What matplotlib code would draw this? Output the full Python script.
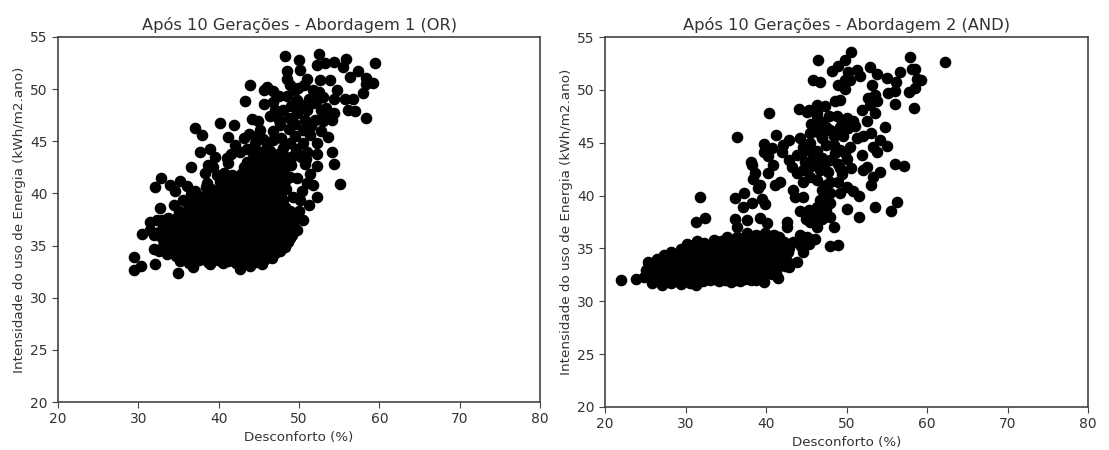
import matplotlib
matplotlib.use('Agg')
import matplotlib.pyplot as plt

# pontos: (desconforto, intensidade)
or_sparse = [
    (48.3,53.2),(50.0,52.8),(52.5,53.4),(52.2,52.3),(53.2,52.5),(54.4,52.6),(55.9,52.9),(55.5,52.1),
    (59.5,52.5),(57.4,51.7),(56.3,51.2),(58.4,51.1),(59.2,50.6),(58.4,50.5),(58.0,49.6),(58.4,47.2),
    (57.0,47.9),(56.1,48.0),(56.7,49.1),(55.7,49.1),(54.7,49.9),(54.3,49.1),(55.1,40.9),(54.3,42.8),
    (54.1,44.0),(53.6,45.4),(43.9,50.4),(46.0,50.2),(45.6,49.9),(46.8,49.8),(43.3,48.9),(45.6,48.6),
    (46.8,48.8),(48.5,51.7),(48.5,51.0),(50.1,51.8),(51.0,51.0),(52.6,50.9),(53.9,50.9),(48.9,50.4),
    (49.9,50.1),(51.8,49.9),(48.5,49.3),(49.7,49.0),(51.2,49.1),(52.2,49.0),(53.4,48.2),(54.3,47.7),
    (54.1,47.0),(52.8,48.0),(51.0,48.0),(49.7,47.7),(48.0,48.0),(46.4,47.4),(44.1,47.1),(44.9,46.9),
    (40.2,46.8),(41.9,46.6),(37.1,46.3),(37.9,45.6),(41.2,45.4),(43.1,45.3),(45.1,46.1),(47.6,46.6),
    (50.5,46.1),(51.4,45.6),(52.2,44.8),(52.2,43.8),(52.2,42.6),(51.4,41.9),(51.8,40.8),(50.1,39.4),
    (50.5,37.5),(49.7,36.5),(37.7,44.0),(38.9,44.3),(39.5,43.5),(36.6,42.5),(38.7,42.7),(38.3,42.0),
    (38.5,41.0),(41.0,43.4),(41.2,42.9),(42.0,44.6),(42.7,44.0),(32.8,41.5),(32.1,40.6),(33.9,40.8),
    (35.2,41.2),(34.6,40.2),(36.0,40.7),(37.0,40.2),(32.7,38.6),(34.4,38.9),(35.6,39.4),(31.4,37.3),
    (32.3,37.5),(30.4,36.1),(31.4,36.5),(31.9,34.7),(32.1,33.2),(29.4,33.9),(29.5,32.7),(30.3,33.0),
    (34.9,32.4),(36.8,32.9),(38.9,33.2),(42.7,32.8),(43.9,33.0),(45.4,33.2),(40.6,33.3),(47.0,34.3),
    (48.3,35.2),(49.1,36.0),(49.7,37.8),(48.0,39.4),(47.2,40.7),(48.9,41.6),(51.0,41.0),(50.3,43.5),
    (48.9,44.8),(46.8,45.1),(44.3,43.9),(43.5,43.0),(52.2,39.7),(51.2,38.9),
]
or_upper = [
    (44.5,44.8),(45.5,45.2),(46.0,44.6),(47.8,45.3),(48.0,44.4),(49.0,43.5),(49.5,45.5),(50.5,44.8),
    (51.0,44.0),(50.7,42.8),(49.8,41.5),(50.4,40.2),(49.3,39.7),(50.0,38.3),(46.8,46.0),(48.8,46.2),
    (49.5,46.7),(50.8,47.0),(52.0,47.0),(53.0,46.9),(51.5,46.5),(52.8,46.0),(53.0,47.5),(47.5,47.0),
    (48.7,47.2),(47.0,48.0),(49.0,48.4),(50.3,48.5),(51.7,48.7),(53.0,49.2),(49.5,49.9),(50.6,50.4),
    (52.5,49.7),(47.5,49.3),(43.5,44.3),(41.5,43.8),(40.7,42.0),(39.8,41.8),(39.3,42.5),(37.5,39.8),
    (36.5,39.9),(38.4,40.6),(33.0,37.5),(32.0,36.0),(32.6,34.5),(44.9,45.6),(43.8,45.7),(50.9,43.3),
]
or_core = [
    (35.2,33.5),(36.3,33.3),(37.6,33.6),(38.7,33.4),(39.9,33.6),(41.1,33.5),(42.2,33.3),(43.4,33.6),(44.6,33.4),(45.7,33.6),(46.6,33.8),
    (33.6,34.2),(34.7,34.0),(35.9,34.3),(37.1,34.1),(38.3,34.3),(39.4,34.0),(40.6,34.2),(41.8,34.3),(42.9,34.1),(44.1,34.3),(45.3,34.0),(46.4,34.3),(47.6,34.5),
    (33.1,35.0),(34.2,34.8),(35.4,35.0),(36.6,34.8),(37.8,35.0),(38.9,34.9),(40.1,35.0),(41.3,34.8),(42.4,35.0),(43.6,34.8),(44.8,35.0),(45.9,34.8),(47.1,35.0),(48.2,34.9),
    (33.0,35.7),(34.1,35.5),(35.3,35.8),(36.4,35.5),(37.6,35.7),(38.8,35.5),(39.9,35.7),(41.1,35.5),(42.3,35.8),(43.4,35.5),(44.6,35.7),(45.8,35.5),(46.9,35.7),(48.1,35.5),(48.9,35.7),
    (32.6,36.3),(33.8,36.2),(35.0,36.4),(36.1,36.1),(37.3,36.3),(38.4,36.2),(39.6,36.4),(40.8,36.1),(41.9,36.3),(43.1,36.2),(44.3,36.4),(45.4,36.2),(46.6,36.3),(47.8,36.1),(48.9,36.4),
    (33.1,37.0),(34.3,36.9),(35.5,37.1),(36.6,36.9),(37.8,37.0),(38.9,36.8),(40.1,37.1),(41.3,36.9),(42.4,37.0),(43.6,36.8),(44.8,37.1),(45.9,36.9),(47.1,37.0),(48.2,36.8),(49.3,37.0),
    (33.7,37.6),(34.9,37.8),(36.0,37.5),(37.2,37.7),(38.4,37.6),(39.5,37.8),(40.7,37.5),(41.8,37.7),(43.0,37.6),(44.2,37.8),(45.3,37.5),(46.5,37.7),(47.7,37.6),(48.8,37.8),
    (35.1,38.3),(36.3,38.4),(37.4,38.2),(38.6,38.4),(39.8,38.3),(40.9,38.4),(42.1,38.2),(43.2,38.4),(44.4,38.3),(45.6,38.5),(46.7,38.2),(47.9,38.4),(48.9,38.3),
    (36.2,39.0),(37.4,39.1),(38.5,38.9),(39.7,39.1),(40.9,39.0),(42.0,39.2),(43.2,38.9),(44.3,39.1),(45.5,39.0),(46.6,39.2),(47.7,38.9),
    (37.2,39.7),(38.4,39.8),(39.6,39.6),(40.7,39.8),(41.9,39.7),(43.1,39.9),(44.2,39.6),(45.4,39.8),(46.5,39.7),(47.4,39.9),
    (39.1,40.4),(40.3,40.5),(41.5,40.3),(42.6,40.5),(43.8,40.4),(45.0,40.6),(46.1,40.3),(47.2,40.5),(48.4,40.4),
    (40.2,41.1),(41.4,41.2),(42.6,41.0),(43.7,41.2),(44.9,41.1),(46.1,41.3),(47.3,41.0),(48.2,41.2),
    (41.6,41.8),(42.8,41.9),(43.9,41.7),(45.1,41.9),(46.3,41.8),(47.4,42.0),
    (43.1,42.5),(44.3,42.6),(45.4,42.4),(46.6,42.6),(47.7,42.5),(49.0,42.7),
    (44.2,43.2),(45.4,43.3),(46.5,43.1),(47.7,43.3),(48.8,43.4),
    (45.2,44.0),(46.4,44.1),(47.6,43.9),(49.6,44.3),
]
or_fill = [
    (35.8,33.9),(37.0,33.9),(38.2,33.8),(39.4,33.9),(40.5,33.9),(41.7,33.8),(42.8,33.9),(44.0,33.9),(45.2,33.8),(46.3,33.9),
    (34.4,34.6),(35.6,34.6),(36.8,34.5),(37.9,34.6),(39.1,34.6),(40.2,34.5),(41.4,34.6),(42.6,34.6),(43.7,34.5),(44.9,34.6),(46.0,34.6),(47.2,34.5),
    (33.6,35.3),(34.8,35.3),(36.0,35.2),(37.1,35.3),(38.3,35.3),(39.5,35.2),(40.6,35.3),(41.8,35.3),(43.0,35.2),(44.1,35.3),(45.3,35.3),(46.4,35.2),(47.6,35.3),(48.6,35.3),
    (33.5,36.0),(34.6,36.0),(35.8,35.9),(37.0,36.0),(38.1,36.0),(39.3,35.9),(40.4,36.0),(41.6,36.0),(42.8,35.9),(43.9,36.0),(45.1,36.0),(46.2,35.9),(47.4,36.0),(48.5,36.0),
    (33.4,36.7),(34.6,36.7),(35.7,36.6),(36.9,36.7),(38.0,36.7),(39.2,36.6),(40.4,36.7),(41.5,36.7),(42.7,36.6),(43.8,36.7),(45.0,36.7),(46.2,36.6),(47.3,36.7),(48.5,36.7),
    (33.8,37.3),(34.9,37.3),(36.1,37.4),(37.3,37.3),(38.4,37.3),(39.6,37.4),(40.7,37.3),(41.9,37.3),(43.0,37.4),(44.2,37.3),(45.4,37.3),(46.5,37.4),(47.7,37.3),(48.8,37.3),
    (35.2,38.0),(36.4,38.0),(37.5,37.9),(38.7,38.0),(39.8,38.0),(41.0,37.9),(42.2,38.0),(43.3,38.0),(44.5,37.9),(45.6,38.0),(46.8,38.0),(48.0,37.9),
    (36.7,38.7),(37.9,38.7),(39.0,38.6),(40.2,38.7),(41.4,38.7),(42.5,38.6),(43.7,38.7),(44.8,38.7),(46.0,38.6),(47.1,38.7),(48.2,38.7),
    (37.8,39.4),(39.0,39.4),(40.1,39.3),(41.3,39.4),(42.5,39.4),(43.6,39.3),(44.8,39.4),(45.9,39.4),(47.1,39.3),
    (39.6,40.0),(40.8,40.0),(41.9,40.1),(43.1,40.0),(44.2,40.0),(45.4,40.1),(46.6,40.0),(47.7,40.0),
    (40.8,40.8),(42.0,40.8),(43.1,40.7),(44.3,40.8),(45.5,40.8),(46.6,40.7),(47.8,40.8),
    (42.0,41.5),(43.2,41.5),(44.4,41.4),(45.5,41.5),(46.7,41.5),(47.9,41.4),
    (43.5,42.2),(44.7,42.2),(45.8,42.1),(47.0,42.2),(48.1,42.2),
    (44.8,42.9),(45.9,42.9),(47.1,42.8),(48.3,42.9),
    (45.8,43.6),(47.0,43.6),(48.2,43.5),(49.2,43.6),
]
and_sparse = [
    (22.0,32.0),(23.9,32.1),(50.5,53.6),(46.5,52.8),(49.8,52.8),(57.9,53.1),(62.2,52.6),(48.9,52.3),
    (48.2,51.8),(52.9,52.2),(51.3,51.9),(50.2,51.7),(51.7,51.3),(53.8,51.5),(55.0,51.1),(56.6,51.7),
    (58.1,52.0),(58.5,52.0),(59.3,50.9),(58.7,51.0),(58.5,50.2),(57.8,49.8),(56.2,50.7),(56.0,49.9),
    (55.2,49.7),(56.0,48.7),(58.4,48.3),(45.8,50.9),(46.7,50.7),(49.0,50.5),(49.8,50.1),(50.4,50.9),
    (49.8,50.9),(53.2,50.5),(53.5,49.5),(52.7,49.2),(53.8,48.9),(52.9,48.6),(51.9,48.1),(53.5,47.8),
    (52.5,47.1),(49.2,49.0),(48.6,48.9),(46.3,48.6),(47.3,48.5),(44.1,48.2),(45.3,48.1),(40.4,47.8),
    (36.4,45.5),(41.2,45.7),(42.8,45.3),(42.1,44.8),(42.0,44.1),(39.7,44.9),(40.7,44.5),(39.7,44.1),
    (40.3,43.7),(38.1,43.2),(38.2,42.9),(40.9,42.9),(40.3,42.1),(38.6,42.1),(38.4,41.6),(39.3,41.0),
    (39.0,40.7),(41.7,41.3),(41.1,41.0),(31.8,39.9),(36.1,39.8),(37.3,40.2),(37.2,38.9),(38.2,39.3),
    (39.5,39.7),(39.9,39.2),(31.3,37.5),(32.4,37.9),(36.1,37.8),(37.7,37.7),(36.4,37.0),(39.3,37.9),
    (40.1,37.4),(42.6,37.5),(42.6,37.0),(44.2,38.5),(43.4,40.5),(43.6,39.9),(44.6,39.9),
]
and_mid = [
    (44.2,45.4),(44.6,44.6),(43.8,43.8),(45.3,44.6),(45.9,43.8),(42.8,43.4),(43.2,42.7),(43.8,42.1),
    (44.6,42.4),(45.9,43.0),(46.7,42.4),(47.7,42.2),(45.5,41.8),(46.3,41.5),(44.6,41.3),(48.0,41.3),
    (46.9,40.5),(48.0,40.2),(49.2,40.2),(50.0,40.8),(50.8,40.4),(51.5,40.0),(46.7,39.6),(48.0,39.3),
    (46.3,38.9),(47.5,38.6),(45.3,38.6),(45.9,38.0),(45.5,37.5),(46.9,37.8),(48.0,38.0),(48.4,37.0),
    (46.3,37.0),(46.1,35.9),(45.1,36.1),(44.2,36.3),(43.4,35.6),(44.6,34.7),(43.8,33.7),(42.8,33.2),
    (48.0,35.2),(48.9,35.3),(50.0,38.7),(51.6,38.0),(53.5,38.9),(55.5,38.5),(56.3,39.4),(53.1,41.0),
    (53.3,41.8),(54.2,42.2),(56.0,43.0),(57.2,42.8),(52.5,42.7),(52.1,42.4),(51.9,43.8),(53.8,44.1),
    (55.0,44.7),(53.3,44.6),(53.1,45.9),(54.8,46.5),(54.2,45.3),(49.2,42.6),(50.6,42.6),(48.0,43.4),
    (50.0,43.5),(48.4,44.8),(47.5,44.8),(49.2,44.3),(50.4,44.6),(51.3,45.4),(52.1,45.6),(49.6,45.6),
    (48.4,45.6),(50.2,46.4),(49.2,46.5),(48.0,46.2),(50.8,47.1),(50.0,47.3),(48.8,47.5),(45.9,46.7),
    (46.7,46.8),(45.5,45.9),(46.3,47.5),(45.1,47.9),(46.3,47.8),(46.9,45.4),
    (44.8,43.2),(45.6,42.8),(46.3,44.2),(47.0,43.6),(47.2,43.0),(48.9,43.0),(49.5,42.0),(49.0,41.3),
    (47.5,41.0),(47.2,39.5),(46.8,38.5),(45.0,37.8),(44.4,35.2),(45.4,35.4),(44.5,44.0),(45.5,45.0),
    (46.5,46.0),(47.5,46.5),(47.8,47.5),(46.8,47.0),(45.6,46.8),(49.5,47.0),(51.0,46.6),(49.8,44.0),
    (48.6,44.0),(47.0,45.5),
]
and_core = [
    (25.9,31.7),(27.1,31.5),(28.2,31.7),(29.4,31.6),(30.5,31.7),(31.3,31.5),(33.1,32.0),(34.2,31.9),(35.6,31.8),(36.8,31.9),(38.1,32.0),(39.7,31.8),(41.5,32.2),
    (24.9,32.3),(25.8,32.2),(26.9,32.4),(28.1,32.2),(29.2,32.4),(30.4,32.2),(31.5,32.4),(32.7,32.3),(33.8,32.4),(35.0,32.3),(36.2,32.5),(37.3,32.3),(38.5,32.5),(39.6,32.4),(40.7,32.6),
    (25.1,33.0),(26.2,33.1),(27.4,32.9),(28.5,33.1),(29.7,33.0),(30.8,33.1),(32.0,32.9),(33.1,33.1),(34.3,33.0),(35.4,33.2),(36.6,33.0),(37.7,33.1),(38.9,33.0),(40.0,33.2),(41.2,33.0),(42.3,33.3),
    (25.4,33.7),(26.7,33.6),(27.8,33.8),(29.0,33.6),(30.1,33.8),(31.3,33.7),(32.4,33.8),(33.6,33.6),(34.7,33.8),(35.9,33.7),(37.0,33.9),(38.2,33.7),(39.3,33.8),(40.5,33.7),(41.6,33.9),(42.6,33.8),
    (27.3,34.4),(28.5,34.3),(29.7,34.5),(30.8,34.3),(32.0,34.5),(33.1,34.4),(34.3,34.5),(35.4,34.3),(36.6,34.5),(37.7,34.4),(38.9,34.6),(40.0,34.4),(41.2,34.5),(42.3,34.4),
    (29.4,34.9),(30.6,35.1),(31.7,35.2),(32.9,35.0),(34.0,35.2),(35.2,35.1),(36.3,35.2),(37.5,35.0),(38.6,35.2),(39.8,35.1),(40.9,35.3),(42.0,35.1),(42.9,35.0),
    (31.4,35.7),(33.6,35.8),(34.4,35.7),(35.6,35.8),(36.8,35.7),(37.9,35.9),(39.1,35.7),(40.2,35.9),(41.3,35.8),(42.2,35.6),
    (37.6,36.5),(38.7,36.3),(39.9,36.5),(41.0,36.3),
]
and_fill = [
    (26.4,32.0),(27.6,32.0),(28.8,31.9),(30.0,32.0),(30.9,32.0),(32.2,31.9),(33.6,32.1),(34.9,32.0),(36.2,32.0),(37.4,32.1),(38.8,32.0),
    (25.3,32.6),(26.4,32.6),(27.5,32.7),(28.7,32.6),(29.8,32.6),(31.0,32.7),(32.1,32.6),(33.3,32.6),(34.4,32.7),(35.6,32.6),(36.8,32.7),(37.9,32.7),(39.0,32.6),(40.2,32.7),(41.3,32.7),
    (25.6,33.4),(26.9,33.3),(28.0,33.4),(29.1,33.3),(30.3,33.4),(31.4,33.3),(32.6,33.4),(33.7,33.3),(34.9,33.4),(36.0,33.3),(37.2,33.4),(38.3,33.4),(39.5,33.3),(40.6,33.4),(41.8,33.4),
    (26.4,34.0),(27.2,34.1),(28.4,34.0),(29.6,34.1),(30.7,34.0),(31.9,34.1),(33.0,34.0),(34.2,34.1),(35.3,34.0),(36.5,34.1),(37.6,34.0),(38.8,34.1),(39.9,34.0),(41.1,34.1),(42.2,34.0),
    (28.2,34.7),(29.3,34.7),(30.4,34.8),(31.5,34.7),(32.6,34.7),(33.8,34.8),(34.9,34.7),(36.0,34.7),(37.2,34.8),(38.3,34.7),(39.5,34.8),(40.6,34.8),(41.8,34.7),(42.7,34.7),
    (30.2,35.4),(31.2,35.4),(32.3,35.5),(33.5,35.4),(34.7,35.4),(35.8,35.5),(37.0,35.4),(38.1,35.4),(39.3,35.5),(40.5,35.4),(41.6,35.4),
    (35.2,36.1),(36.4,36.1),(37.5,36.2),(38.6,36.1),(39.7,36.1),(40.8,36.2),(41.6,36.1),
]
ticks_x = [20, 30, 40, 50, 60, 70, 80]
ticks_y = [20, 25, 30, 35, 40, 45, 50, 55]

fig = plt.figure(figsize=(11.09, 4.5), dpi=100)
ax1 = fig.add_axes([58/1109, 1-402/450, 482/1109, 365/450])
ax2 = fig.add_axes([605/1109, 1-407/450, 483/1109, 370/450])

for ax, groups, title in [(ax1, [or_core, or_fill, or_upper, or_sparse], 'Após 10 Gerações - Abordagem 1 (OR)'),
                          (ax2, [and_core, and_fill, and_mid, and_sparse], 'Após 10 Gerações - Abordagem 2 (AND)')]:
    for pts in groups:
        ax.scatter([p[0] for p in pts], [p[1] for p in pts], s=54, c='black')
    ax.set_xlim(20, 80)
    ax.set_ylim(20, 55)
    ax.set_xticks(ticks_x)
    ax.set_yticks(ticks_y)
    ax.set_title(title, fontsize=11.7, pad=5, color='#333333')
    ax.set_xlabel('Desconforto (%)', fontsize=9.6, labelpad=3, color='#333333')
    ax.set_ylabel('Intensidade do uso de Energia (kWh/m2.ano)', fontsize=9.7, labelpad=3, color='#333333')
    ax.tick_params(labelsize=10, length=4, labelcolor='#333333', color='#444444')
    for side in ax.spines.values():
        side.set_linewidth(1.2)
        side.set_color('#444444')

fig.savefig('out.png', dpi=100)
